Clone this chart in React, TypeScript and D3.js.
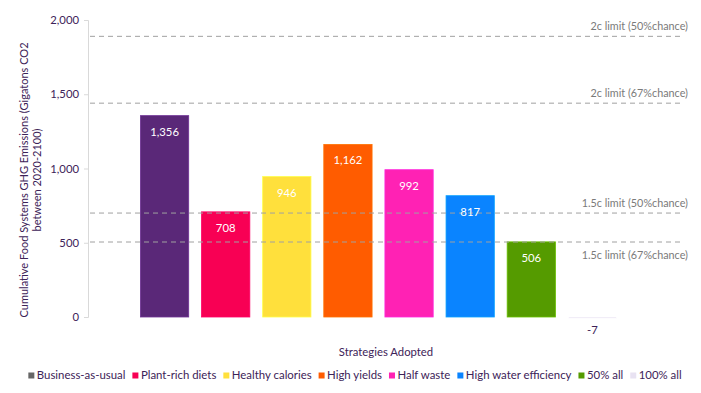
import React, { useEffect, useRef } from 'react';
import * as d3 from 'd3';

const strategies = ['Business-as-usual', 'Plant-rich diets', 'Healthy calories', 'High yields', 'Half waste', 'High water efficiency', '50% all', '100% all'];
const emissions = [1356, 708, 946, 1162, 992, 817, 506, -7];
const barColors = ['#5a2878', '#f80054', '#ffe03c', '#ff5c00', '#ff22b4', '#0a84ff', '#559b00', '#e8e2f2'];
const legendColors = ['#666666', '#f80054', '#ffe03c', '#ff5c00', '#ff22b4', '#0a84ff', '#559b00', '#e8e2f2'];

const limitLabels = ['2c limit (50%chance)', '2c limit (67%chance)', '1.5c limit (50%chance)', '1.5c limit (67%chance)'];
const limitValues = [1890, 1440, 700, 505];
const limitBelow = [false, false, false, true];

const yTicks = [0, 500, 1000, 1500, 2000];

const textColor = '#3d2358';
const font = 'Lato, "Open Sans", sans-serif';
const fmt = (v: number) => d3.format(',')(v).replace('\u2212', '-');

export default function App() {
  const ref = useRef<SVGSVGElement>(null);

  useEffect(() => {
    const svg = d3.select(ref.current);
    svg.selectAll('*').remove();
    svg.style('font-family', font);

    const left = 88, right = 683, top = 20, bottom = 317;

    const y = d3.scaleLinear().domain([0, 2000]).range([bottom, top]);
    const x = d3.scaleBand().domain(strategies).range([134, 623]).paddingInner(0.21).paddingOuter(0.105);

    // y axis
    const yAxis = svg.append('g')
      .attr('transform', `translate(${left},0)`)
      .call(d3.axisLeft(y).tickValues(yTicks).tickSize(4).tickPadding(5).tickFormat(d => fmt(+d)));
    yAxis.select('.domain').attr('stroke', '#d9d9d9');
    yAxis.selectAll('.tick line').attr('stroke', '#d9d9d9');
    yAxis.selectAll('.tick text').attr('fill', textColor).style('font-size', '11.3px').style('font-family', font);

    // bars
    svg.append('g').selectAll('rect')
      .data(emissions)
      .join('rect')
      .attr('x', (d, i) => x(strategies[i])!)
      .attr('width', x.bandwidth())
      .attr('y', d => y(Math.max(0, d)))
      .attr('height', d => Math.max(1.5, Math.abs(y(d) - y(0))))
      .attr('fill', (d, i) => barColors[i])
      .attr('stroke', (d, i) => d3.color(barColors[i])!.brighter(0.6).toString())
      .attr('stroke-width', 0.8);

    // limit lines, drawn over the bars
    limitValues.forEach(v => {
      svg.append('line')
        .attr('x1', left + 2).attr('x2', right)
        .attr('y1', y(v)).attr('y2', y(v))
        .attr('stroke', '#a0a0a0').attr('stroke-width', 1)
        .attr('stroke-dasharray', '5,4');
    });

    // limit labels
    limitLabels.forEach((t, i) => {
      svg.append('text')
        .attr('x', 688)
        .attr('y', limitBelow[i] ? y(limitValues[i]) + 17 : y(limitValues[i]) - 6)
        .attr('text-anchor', 'end')
        .attr('fill', '#7a7a7a')
        .style('font-size', '10.8px')
        .text(t);
    });

    // value labels
    svg.append('g').selectAll('text')
      .data(emissions)
      .join('text')
      .attr('x', (d, i) => x(strategies[i])! + x.bandwidth() / 2)
      .attr('y', d => d >= 0 ? y(d) + 20 : y(0) + 17)
      .attr('text-anchor', 'middle')
      .attr('fill', d => d >= 0 ? '#ffffff' : textColor)
      .style('font-size', '11.3px')
      .text(d => fmt(d));

    // axis titles
    svg.append('text')
      .attr('x', 386).attr('y', 356)
      .attr('text-anchor', 'middle')
      .attr('fill', textColor)
      .style('font-size', '11.3px')
      .text('Strategies Adopted');

    const yTitle = svg.append('text')
      .attr('transform', `translate(28,180) rotate(-90)`)
      .attr('text-anchor', 'middle')
      .attr('fill', textColor)
      .style('font-size', '11px');
    yTitle.append('tspan').attr('x', 0).attr('dy', 0).text('Cumulative Food Systems GHG Emissions (Gigatons CO2');
    yTitle.append('tspan').attr('x', 0).attr('dy', 12.5).text('between 2020-2100)');

    // legend
    const legend = svg.append('g');
    let cx = 0;
    strategies.forEach((s, i) => {
      const g = legend.append('g').attr('transform', `translate(${cx},0)`);
      g.append('rect').attr('x', 0).attr('y', -6.5).attr('width', 6).attr('height', 6).attr('fill', legendColors[i]);
      const t = g.append('text').attr('x', 8.5).attr('y', 0)
        .attr('fill', textColor).style('font-size', '11.4px').text(s);
      const w = (t.node() as SVGTextElement).getComputedTextLength();
      cx += 8.5 + w + 7;
    });
    const total = cx - 7;
    legend.attr('transform', `translate(${(29 + 681) / 2 - total / 2},379)`);
  }, []);

  return <svg ref={ref} width={701} height={393} style={{ display: 'block', position: 'absolute', left: 0, top: 0 }} />;
}
